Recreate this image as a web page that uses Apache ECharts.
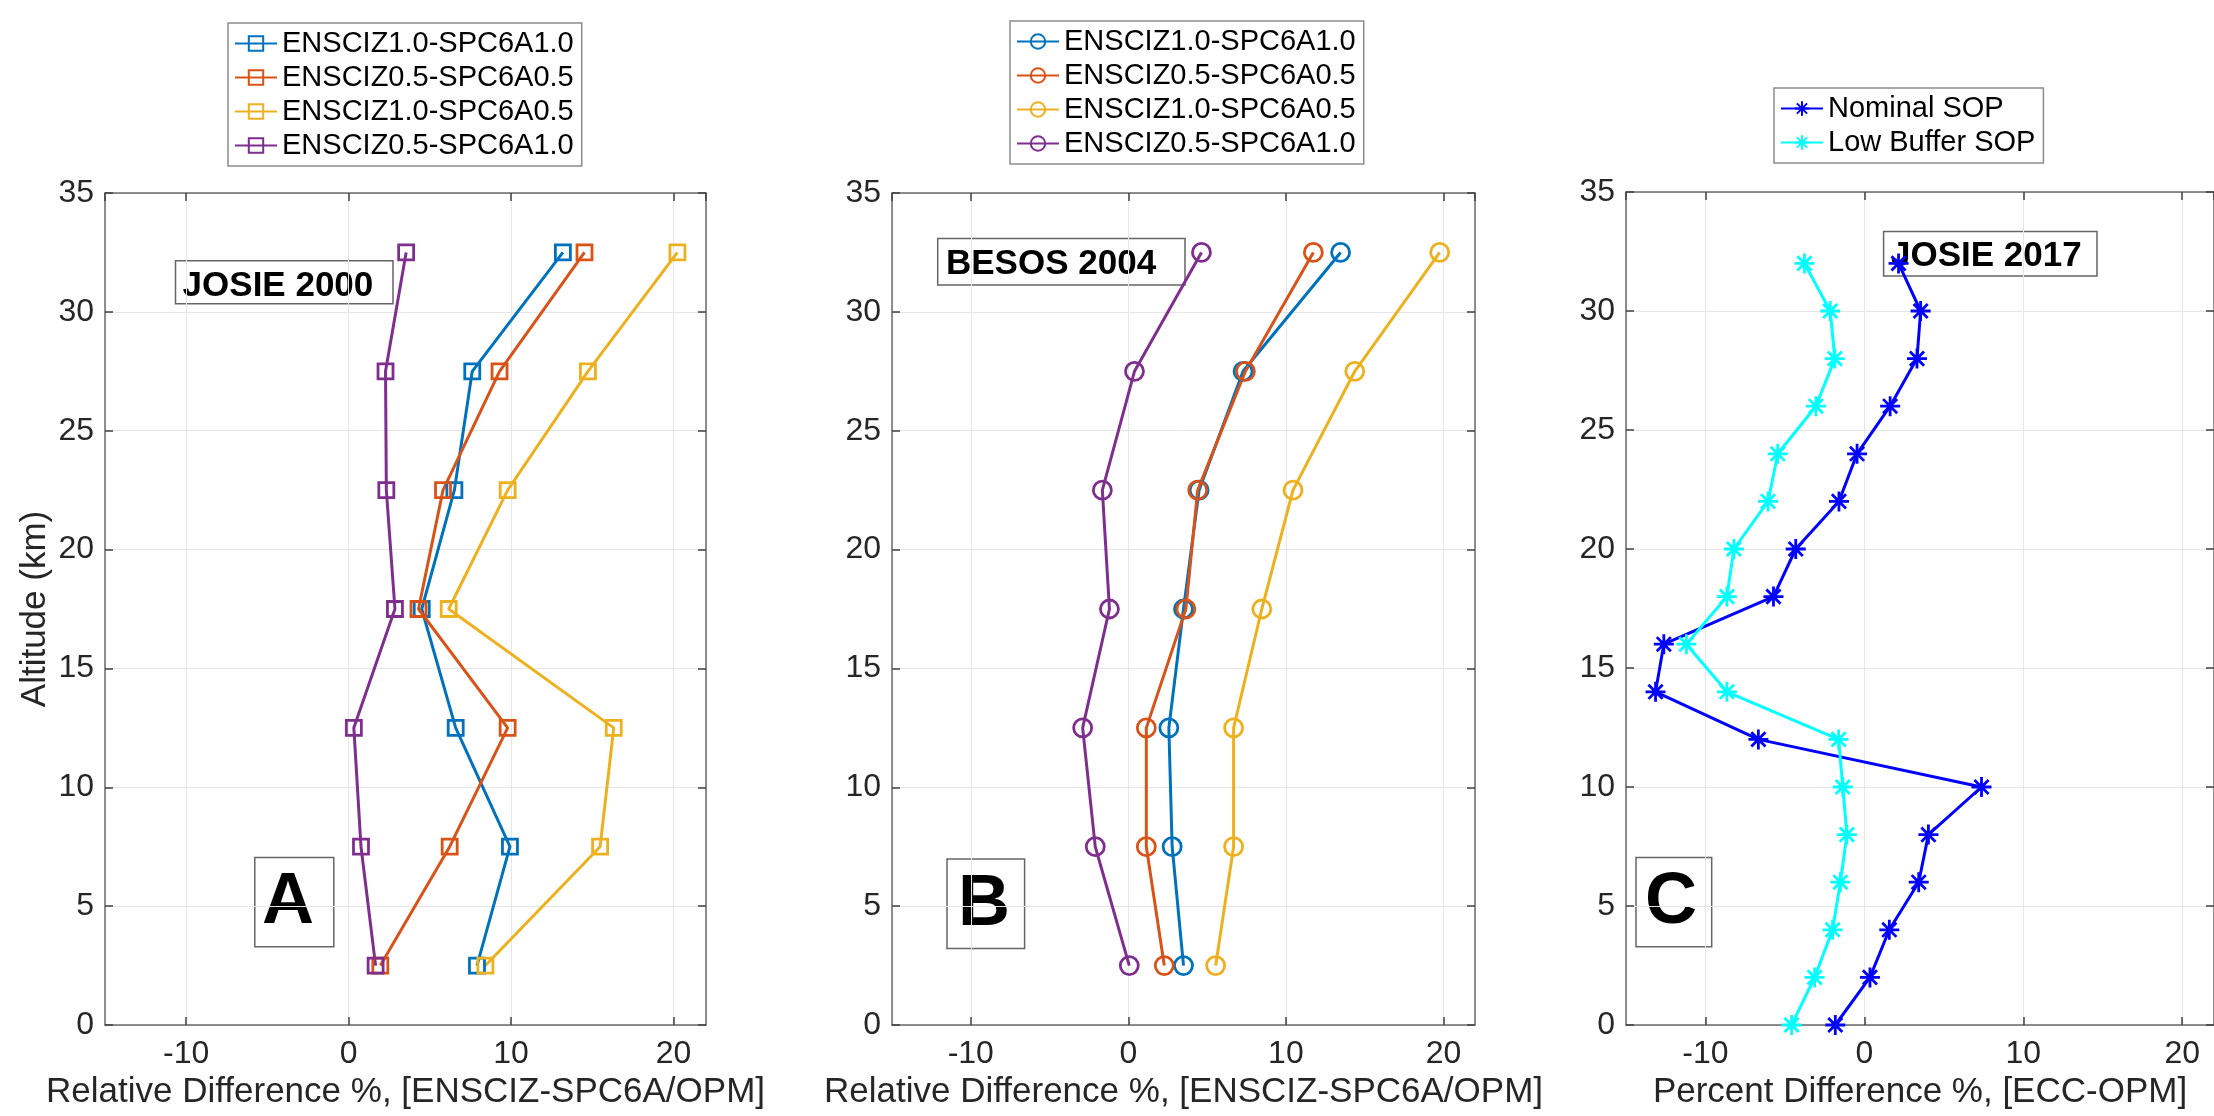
<!DOCTYPE html>
<html>
<head>
<meta charset="utf-8">
<title>Ozonesonde relative differences</title>
<script src="https://cdn.jsdelivr.net/npm/echarts@6/dist/echarts.min.js"></script>
<style>
  html, body { margin: 0; padding: 0; background: #fff; }
  #chart { width: 2214px; height: 1116px; }
</style>
</head>
<body>
<div id="chart"></div>
<script>
// altitudes (km)
const altAB = [2.5, 7.5, 12.5, 17.5, 22.5, 27.5, 32.5];
const altC = [0, 2, 4, 6, 8, 10, 12, 14, 16, 18, 20, 22, 24, 26, 28, 30, 32];

// legend names
const ensciNames = ['ENSCIZ1.0-SPC6A1.0', 'ENSCIZ0.5-SPC6A0.5', 'ENSCIZ1.0-SPC6A0.5', 'ENSCIZ0.5-SPC6A1.0'];
const sopNames = ['Nominal SOP', 'Low Buffer SOP'];

// panel A, JOSIE 2000 (relative difference %)
const josie2000 = [
  [7.90, 9.93, 6.59, 4.50, 6.51, 7.61, 13.19],
  [1.95, 6.22, 9.79, 4.30, 5.81, 9.29, 14.52],
  [8.42, 15.48, 16.32, 6.16, 9.79, 14.73, 20.24],
  [1.66, 0.76, 0.32, 2.85, 2.32, 2.27, 3.54]
];

// panel B, BESOS 2004
const besos2004 = [
  [3.50, 2.78, 2.57, 3.50, 4.49, 7.28, 13.47],
  [2.28, 1.14, 1.14, 3.65, 4.40, 7.43, 11.74],
  [5.54, 6.68, 6.68, 8.47, 10.45, 14.37, 19.76],
  [0.06, -2.10, -2.90, -1.20, -1.65, 0.39, 4.64]
];

// panel C, JOSIE 2017 (percent difference %)
const nominalSop = [-1.83, 0.35, 1.57, 3.42, 4.03, 7.37, -6.67, -13.14, -12.62, -5.72, -4.32, -1.60, -0.46, 1.62, 3.31, 3.54, 2.15];
const lowBufferSop = [-4.58, -3.13, -2.00, -1.51, -1.10, -1.36, -1.62, -8.65, -11.20, -8.65, -8.21, -6.06, -5.45, -3.05, -1.86, -2.15, -3.77];

const ensciColors = ['#0072BD', '#D95319', '#EDB120', '#7E2F8E'];
const sopColors = ['#0000FF', '#00FFFF'];

const FONT = '"Liberation Sans", Arial, Helvetica, sans-serif';
const AXIS_COLOR = '#6b6b6b';
const TEXT_COLOR = '#262626';
const ASTERISK = 'path://M10,0L10,20M0,10L20,10M2.93,2.93L17.07,17.07M2.93,17.07L17.07,2.93';

const grids = [
  { left: 105, top: 193, width: 601, height: 832 },
  { left: 892, top: 193, width: 583, height: 832 },
  { left: 1626, top: 192, width: 597, height: 833 }
];

const xNames = [
  'Relative Difference %, [ENSCIZ-SPC6A/OPM]',
  'Relative Difference %, [ENSCIZ-SPC6A/OPM]',
  'Percent Difference %, [ECC-OPM]'
];

const xAxes = [];
const yAxes = [];
grids.forEach((g, i) => {
  const tick = { show: true, inside: true, length: 8, lineStyle: { color: '#404040', width: 1.5 } };
  xAxes.push({
    gridIndex: i, type: 'value', position: 'bottom', min: -15, max: 22, splitNumber: 4,
    name: xNames[i], nameLocation: 'middle', nameGap: 50,
    nameTextStyle: { fontFamily: FONT, fontSize: 35, color: TEXT_COLOR },
    axisLine: { show: true, onZero: false, lineStyle: { color: AXIS_COLOR, width: 1.5 } },
    axisTick: tick,
    axisLabel: { fontFamily: FONT, fontSize: 32, color: TEXT_COLOR, margin: 13, showMinLabel: false, showMaxLabel: false },
    splitLine: { show: true, lineStyle: { color: '#e6e6e6', width: 1 } }
  });
  xAxes.push({
    gridIndex: i, type: 'value', position: 'top', min: -15, max: 22, splitNumber: 4,
    axisLine: { show: true, onZero: false, lineStyle: { color: AXIS_COLOR, width: 1.5 } },
    axisTick: tick, axisLabel: { show: false }, splitLine: { show: false }
  });
  yAxes.push({
    gridIndex: i, type: 'value', position: 'left', min: 0, max: 35, interval: 5,
    name: i === 0 ? 'Altitude (km)' : '', nameLocation: 'middle', nameGap: 52, nameRotate: 90,
    nameTextStyle: { fontFamily: FONT, fontSize: 35, color: TEXT_COLOR },
    axisLine: { show: true, onZero: false, lineStyle: { color: AXIS_COLOR, width: 1.5 } },
    axisTick: tick,
    axisLabel: { fontFamily: FONT, fontSize: 32, color: TEXT_COLOR, margin: 11 },
    splitLine: { show: true, lineStyle: { color: '#e6e6e6', width: 1 } }
  });
  yAxes.push({
    gridIndex: i, type: 'value', position: 'right', min: 0, max: 35, interval: 5,
    axisLine: { show: true, onZero: false, lineStyle: { color: AXIS_COLOR, width: 1.5 } },
    axisTick: tick, axisLabel: { show: false }, splitLine: { show: false }
  });
});

function profile(name, xs, ys, color, symbol, size, panel) {
  return {
    type: 'line',
    name: name,
    xAxisIndex: panel * 2,
    yAxisIndex: panel * 2,
    data: xs.map((v, k) => [v, ys[k]]),
    symbol: symbol,
    symbolSize: size,
    showAllSymbol: true,
    lineStyle: { color: color, width: 3 },
    itemStyle: { color: 'transparent', borderColor: color, borderWidth: 2.8 },
    emphasis: { disabled: true }
  };
}

const series = [];
josie2000.forEach((vals, k) => series.push(profile('A:' + ensciNames[k], vals, altAB, ensciColors[k], 'rect', 15, 0)));
besos2004.forEach((vals, k) => series.push(profile('B:' + ensciNames[k], vals, altAB, ensciColors[k], 'circle', 18, 1)));
series.push(profile('C:' + sopNames[0], nominalSop, altC, sopColors[0], ASTERISK, 20, 2));
series.push(profile('C:' + sopNames[1], lowBufferSop, altC, sopColors[1], ASTERISK, 20, 2));

function legendAt(prefix, names, left, top) {
  return {
    orient: 'vertical',
    left: left,
    top: top,
    data: names.map(n => prefix + n),
    formatter: name => name.slice(2),
    selectedMode: false,
    itemWidth: 42,
    itemHeight: 18,
    itemGap: 5,
    padding: [6, 8, 6, 6],
    borderColor: '#8c8c8c',
    borderWidth: 1.5,
    backgroundColor: '#fff',
    textStyle: { fontFamily: FONT, fontSize: 29, lineHeight: 29, color: '#000' }
  };
}

function labelBox(x, y, w, h, text, tx, ty, size) {
  return {
    type: 'group',
    children: [
      { type: 'rect', shape: { x: x, y: y, width: w, height: h }, style: { fill: 'none', stroke: '#666', lineWidth: 1.5 } },
      { type: 'text', x: tx, y: ty, style: { text: text, fill: '#000', font: 'bold ' + size + 'px ' + FONT, verticalAlign: 'middle', align: 'left' } }
    ]
  };
}

const chart = echarts.init(document.getElementById('chart'));
chart.setOption({
  backgroundColor: '#fff',
  animation: false,
  grid: grids,
  xAxis: xAxes,
  yAxis: yAxes,
  legend: [
    legendAt('A:', ensciNames, 228, 23),
    legendAt('B:', ensciNames, 1010, 21),
    legendAt('C:', sopNames, 1774, 88)
  ],
  series: series,
  graphic: [
    labelBox(175.5, 260.7, 217.5, 43, 'JOSIE 2000', 182.6, 286, 35),
    labelBox(254.8, 857.5, 79, 89.3, 'A', 262, 903, 72),
    labelBox(937.7, 238.6, 247.3, 46.4, 'BESOS 2004', 946, 264, 35),
    labelBox(947, 859, 77.6, 89.6, 'B', 958, 905, 72),
    labelBox(1883.6, 231.4, 213.4, 44.6, 'JOSIE 2017', 1891, 256, 35),
    labelBox(1636, 857.5, 75.7, 89.3, 'C', 1645, 903, 72)
  ]
});
</script>
</body>
</html>
